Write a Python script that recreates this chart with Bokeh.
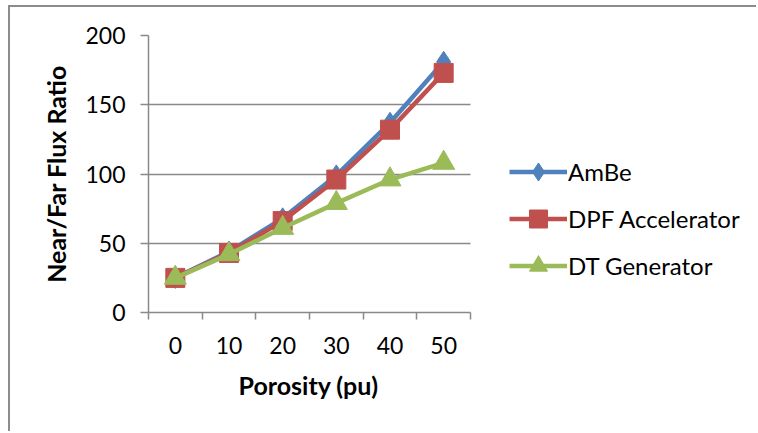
from bokeh.plotting import figure
from bokeh.models import Range1d, LinearAxis, FixedTicker, Legend, LegendItem, Title, Grid
from bokeh.embed import file_html
from bokeh.resources import INLINE

# Porosity categories (pu) and near/far flux ratios for each neutron source
porosity = ["0", "10", "20", "30", "40", "50"]
ambe = [25, 44, 68, 99, 137, 181]
dpf_accelerator = [25, 43, 66, 96, 132, 173]
dt_generator = [25, 42, 61, 79, 96, 108]
y_ticks = [0, 50, 100, 150, 200]

FONT = "Lato"
GRAY = "#898989"

# each category occupies one unit slot; points sit at the slot centres
n = len(porosity)
slot_center = [i + 0.5 for i in range(n)]
slot_edges = list(range(n + 1))

# the frame runs on to the right edge so the legend can sit inside it;
# axis and grid lines are bounded to the category slots
PLOT_W, FRAME_LEFT, SLOTS_W = 748, 138, 322
x_end = n * (PLOT_W - FRAME_LEFT) / SLOTS_W

p = figure(
    width=PLOT_W, height=426,
    x_range=Range1d(0, x_end),
    y_range=Range1d(0, 200),
    x_axis_location=None,
    output_backend="svg", toolbar_location=None,
    min_border_left=FRAME_LEFT, min_border_right=0,
    min_border_top=28, min_border_bottom=121,
)
p.margin = (5, 0, 0, 8)
p.styles = {"border-left": "2px solid #8c8c8c", "border-top": "2px solid #8c8c8c"}
p.outline_line_color = None
p.background_fill_color = "white"
p.border_fill_color = "white"

# category labels at slot centres, tick marks on the slot boundaries
x_axis = LinearAxis(
    bounds=(0, n),
    ticker=FixedTicker(ticks=slot_center, minor_ticks=slot_edges),
    major_label_overrides={c: lab for c, lab in zip(slot_center, porosity)},
    major_tick_line_color=None,
    minor_tick_out=7, minor_tick_in=0,
    minor_tick_line_color=GRAY, minor_tick_line_width=1.5,
    axis_line_color=GRAY, axis_line_width=1.5,
    major_label_text_font=FONT, major_label_text_font_size="23px",
    major_label_text_color="black", major_label_standoff=17,
)
p.add_layout(x_axis, "below")

# x axis title, centred under the category slots
p.add_layout(Title(
    text="Porosity (pu)", align="left", offset=90, standoff=22,
    text_font=FONT, text_font_size="25px", text_font_style="bold",
    text_color="black",
), "below")

# y axis
p.yaxis.ticker = FixedTicker(ticks=y_ticks)
p.yaxis.major_tick_out = 8
p.yaxis.major_tick_in = 0
p.yaxis.minor_tick_line_color = None
p.yaxis.major_tick_line_color = GRAY
p.yaxis.major_tick_line_width = 1.5
p.yaxis.axis_line_color = GRAY
p.yaxis.axis_line_width = 1.5
p.yaxis.major_label_text_font = FONT
p.yaxis.major_label_text_font_size = "23px"
p.yaxis.major_label_text_color = "black"
p.yaxis.major_label_standoff = 15
p.yaxis.axis_label = "Near/Far Flux Ratio"
p.yaxis.axis_label_text_font = FONT
p.yaxis.axis_label_text_font_size = "25px"
p.yaxis.axis_label_text_font_style = "bold"
p.yaxis.axis_label_text_color = "black"
p.yaxis.axis_label_standoff = 11

# horizontal grid lines across the category slots only
p.xgrid.grid_line_color = None
if "cross_bounds" in Grid.properties():
    p.ygrid.ticker = FixedTicker(ticks=y_ticks)
    p.ygrid.cross_bounds = (0, n)
    p.ygrid.grid_line_color = GRAY
    p.ygrid.grid_line_width = 1.5
else:
    p.ygrid.grid_line_color = None
    p.segment(x0=[0] * len(y_ticks), x1=[n] * len(y_ticks), y0=y_ticks, y1=y_ticks,
              line_color=GRAY, line_width=1.5)

series = [
    ("AmBe", ambe, "#4F81BD", "diamond", 21),
    ("DPF Accelerator", dpf_accelerator, "#C0504D", "square", 19),
    ("DT Generator", dt_generator, "#9BBB59", "triangle", 22),
]

items = []
for name, vals, color, marker, size in series:
    ln = p.line(slot_center, vals, line_color=color, line_width=4.5)
    mk = p.scatter(slot_center, vals, marker=marker, size=size,
                   fill_color=color, line_color=color)
    items.append(LegendItem(label=name, renderers=[ln, mk]))

legend = Legend(
    items=items, location=(361, 24),
    glyph_width=58, glyph_height=45, label_height=45, spacing=2,
    label_standoff=1, padding=0, margin=0,
    border_line_color=None, background_fill_alpha=0,
    label_text_font=FONT, label_text_font_size="24px", label_text_color="black",
)
p.add_layout(legend, "center")

open("out.html", "w").write(file_html(p, INLINE))
